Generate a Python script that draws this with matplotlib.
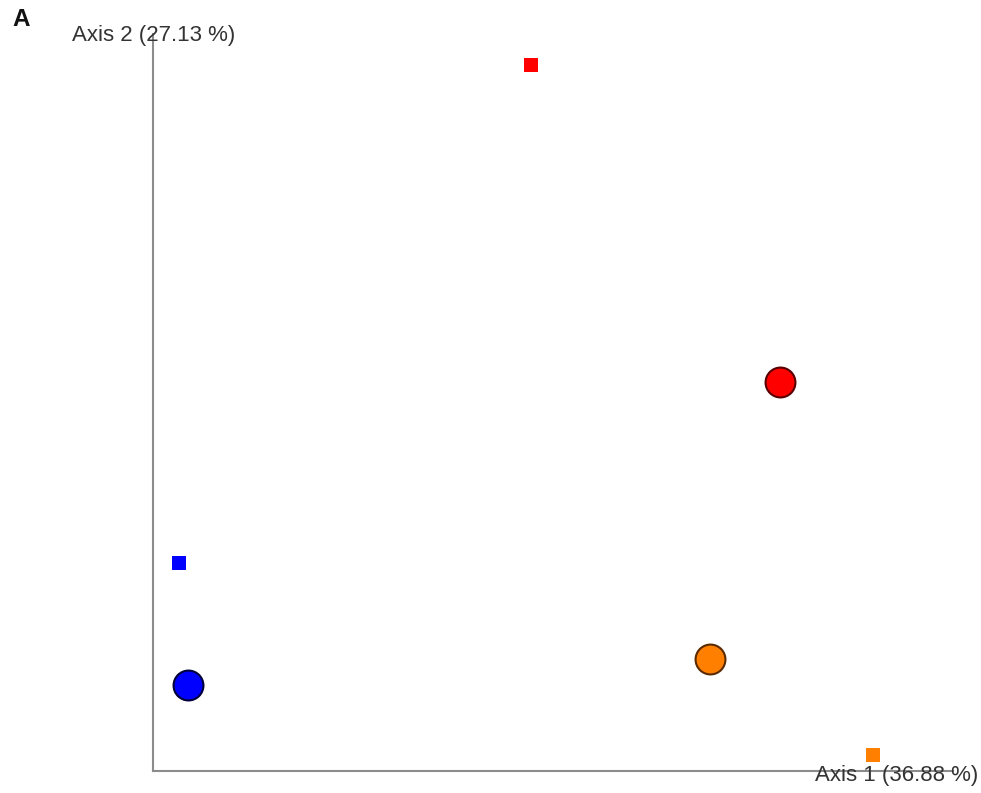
import matplotlib
matplotlib.use("Agg")
import matplotlib.pyplot as plt

plt.rcParams['font.family'] = ['Liberation Sans', 'DejaVu Sans']

# PCoA coordinates (Axis 1, Axis 2) per sample
groups = ["red", "blue", "orange"]
square_x = [0.116, -0.271, 0.492]
square_y = [0.374, -0.101, -0.285]
circle_x = [0.390, -0.262, 0.313]
circle_y = [0.0715, -0.218, -0.193]
fill_colors = ["#ff0000", "#0000ff", "#ff8000"]
edge_colors = ["#5a0000", "#00003a", "#5a2a00"]
axis1_label = "Axis 1 (36.88 %)"
axis2_label = "Axis 2 (27.13 %)"

W, H = 981, 793
fig = plt.figure(figsize=(W / 100, H / 100), dpi=100)
ax = fig.add_axes([153 / W, 22 / H, 727 / W, 733 / H])
ax.set_xlim(-0.3, 0.5)
ax.set_ylim(-0.3, 0.4)
ax.axis("off")

# axis lines drawn from the corner
axis_col = "#8c8c8c"
ax.plot([0, 1.1], [0, 0], transform=ax.transAxes, color=axis_col, lw=1.5, clip_on=False, zorder=1)
ax.plot([0, 0], [0, 1.005], transform=ax.transAxes, color=axis_col, lw=1.5, clip_on=False, zorder=1)

for sx, sy, fc in zip(square_x, square_y, fill_colors):
    ax.plot(sx, sy, marker="s", ms=10, color=fc, mec=fc, mew=0, ls="none", clip_on=False, zorder=3)
for cx, cy, fc, ec in zip(circle_x, circle_y, fill_colors, edge_colors):
    ax.plot(cx, cy, marker="o", ms=21.5, mfc=fc, mec=ec, mew=1.5, ls="none", clip_on=False, zorder=3)

fig.text(72 / W, 1 - 35 / H, axis2_label, fontsize=16, color="#333333", ha="left", va="center")
fig.text(815 / W, 1 - 775 / H, axis1_label, fontsize=16, color="#333333", ha="left", va="center", zorder=5)
fig.text(12 / W, 1 - 20 / H, "A", fontsize=17.5, fontweight="bold", color="#111111", ha="left", va="center")

fig.savefig("out.png", dpi=100)
